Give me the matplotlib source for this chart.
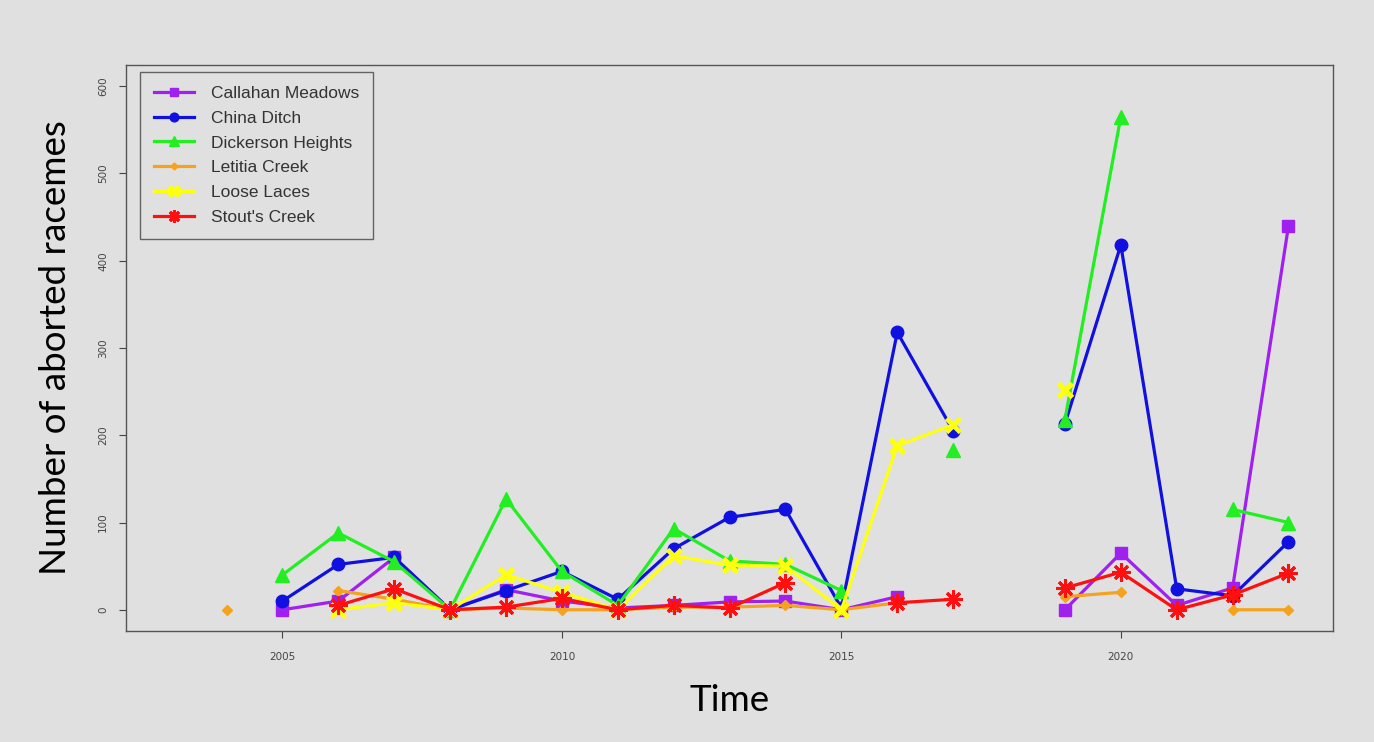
import matplotlib.pyplot as plt
import numpy as np

nan = np.nan

# Survey years (2018 has no counts at any site)
years = np.arange(2004, 2024)

callahan = [nan, 0, 10, 60, 0, 23, 10, 2, 5, 9, 10, 0, 15, nan, nan, 0, 65, 5, 25, 440]
china = [nan, 10, 52, 60, 0, 22, 44, 12, 70, 106, 115, 2, 318, 205, nan, 213, 418, 24, 16, 78]
dickerson = [nan, 40, 88, 55, 0, 127, 44, 5, 93, 56, 52, 22, nan, 183, nan, 218, 565, nan, 115, 100]
letitia = [0, nan, 22, 12, 0, 2, 0, 0, 3, 3, 5, 0, 8, nan, nan, 15, 20, nan, 0, 0]
loose = [nan, nan, 0, 8, 0, 40, 20, 0, 62, 51, 50, 0, 188, 212, nan, 252, nan, nan, nan, nan]
stout = [nan, nan, 5, 24, 0, 3, 13, 0, 5, 2, 31, nan, 8, 12, nan, 25, 43, 0, 17, 42]

sites = ["Callahan Meadows", "China Ditch", "Dickerson Heights",
         "Letitia Creek", "Loose Laces", "Stout's Creek"]
series = [callahan, china, dickerson, letitia, loose, stout]

colors = ["#a020f0", "#1010e0", "#22ee22", "#f5a31e", "#ffff10", "#ff1010"]
markers = ["s", "o", "^", "D", "x", (8, 2, 0)]
msizes = [9, 9, 10, 5, 10, 13]
mews = [1, 1, 1, 1, 3.5, 2.2]

bg = "#e0e0e0"
fig = plt.figure(figsize=(13.74, 7.42), dpi=100, facecolor=bg)
ax = fig.add_axes([0.0917, 0.150, 0.8786, 0.762], facecolor=bg)

for name, vals, c, m, ms, mew in zip(sites, series, colors, markers, msizes, mews):
    ax.plot(years, vals, color=c, lw=2.3, marker=m, markersize=ms,
            markeredgewidth=mew, markeredgecolor=c, markerfacecolor=c, label=name)

ax.set_xlim(2002.2, 2023.8)
ax.set_ylim(-24, 624)
ax.set_xticks([2005, 2010, 2015, 2020])
ax.set_yticks(np.arange(0, 601, 100))
ax.tick_params(axis="both", labelsize=7.5, colors="#444444", length=5, width=0.8)
ax.tick_params(axis="x", pad=10)
ax.tick_params(axis="y", pad=8)
for lab in ax.get_yticklabels():
    lab.set_rotation(90)
    lab.set_va("center")
for sp in ax.spines.values():
    sp.set_color("#555555")
    sp.set_linewidth(1.0)

ax.set_xlabel("Time", fontsize=26.5, family="Lato", labelpad=16)
ax.set_ylabel("Number of aborted racemes", fontsize=26.5, family="Lato", labelpad=19)

leg = ax.legend(loc="upper left", bbox_to_anchor=(0.0116, 0.988), borderaxespad=0,
                fontsize=12.5, frameon=True, fancybox=False, facecolor=bg,
                edgecolor="#444444", handlelength=2.3, handletextpad=1.0,
                labelspacing=0.55, borderpad=0.8, markerscale=0.7)
leg.get_frame().set_linewidth(1.0)
for t in leg.get_texts():
    t.set_color("#333333")
    t.set_family("Liberation Sans")

fig.savefig("out.png", dpi=100, facecolor=bg)
